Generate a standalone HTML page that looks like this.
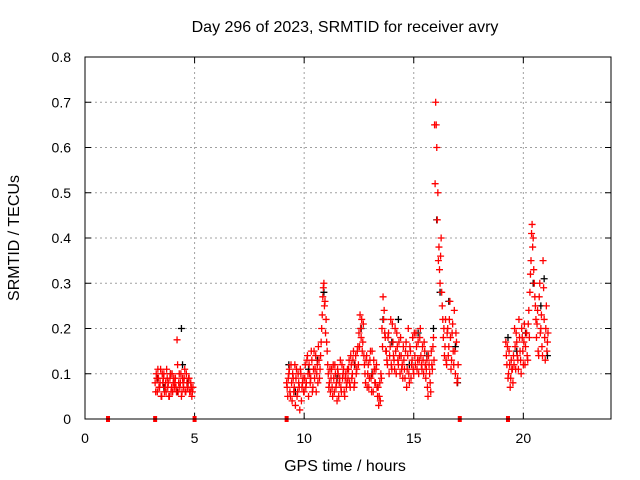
<!DOCTYPE html>
<html><head><meta charset="utf-8"><style>
html,body{margin:0;padding:0;background:#fff}
svg{display:block;font-family:"Liberation Sans",sans-serif}
</style></head><body>
<svg id="chart" width="640" height="480" viewBox="0 0 640 480">
<text x="345" y="32" text-anchor="middle" font-size="16">Day 296 of 2023, SRMTID for receiver avry</text>
<text x="0" y="0" transform="translate(19,238) rotate(-90)" text-anchor="middle" font-size="16">SRMTID / TECUs</text>
<text x="345" y="471" text-anchor="middle" font-size="16">GPS time / hours</text>
<g id="grid"></g>
<g id="ticks"></g>
<g id="black"></g>
<g id="red"></g>
<rect x="85" y="57" width="526" height="362" fill="none" stroke="#000" stroke-width="1"/>
</svg>
<script>
const xTicks=[0,5,10,15,20];
const yTicks=[0,0.1,0.2,0.3,0.4,0.5,0.6,0.7,0.8];
const yTickLabels=["0","0.1","0.2","0.3","0.4","0.5","0.6","0.7","0.8"];
const segStarts=[3.20,9.20,10.00,10.80,11.20,12.00,12.50,12.75,13.35,13.55,13.75,14.55,15.05,15.55,15.95,16.15,16.35,19.20,19.55,20.30,20.60];
const redA=[
.08,.10,.06,.09,.07,.11,.05,.08,.10,.07,.06,.09,.08,.05,.10,.07,.06,.09,.08,.07,.175,.06,.10,.08,.05,.09,.07,.11,.06,.08,.07,.09,.06,.07,.06,
.08,.05,.10,.06,.12,.04,.09,.07,.03,.11,.06,.08,.02,.10,.07,.09,
.06,.12,.08,.14,.05,.10,.09,.13,.07,.15,.11,.06,.12,.16,.09,.14,
.20,.27,.30,.26,.22,.15,.10,.08,
.06,.11,.05,.09,.12,.07,.04,.10,.08,.13,.06,.09,.11,.05,.10,.08,
.09,.13,.07,.12,.10,.15,.08,.14,.11,.16,
.19,.23,.18,.15,.21,
.12,.08,.14,.10,.07,.13,.09,.15,.06,.11,.08,.12,
.05,.03,.08,.10,
.20,.27,.24,.18,
.15,.12,.19,.14,.22,.11,.17,.13,.20,.10,.16,.12,.14,.18,.11,.09,
.13,.09,.17,.11,.20,.08,.15,.12,.18,.10,
.14,.19,.11,.17,.13,.20,.12,.16,.10,.15,
.09,.13,.05,.12,.08,.15,.11,.18,
.65,.70,.60,.50,
.38,.30,.40,.25,
.18,.14,.22,.12,.20,.16,.26,.11,.19,.15,.24,.10,.17,.09,
.17,.12,.09,.15,.07,.13,.11,
.14,.20,.11,.17,.13,.22,.15,.10,.18,.12,.21,.16,.19,.13,.24,
.28,.35,.43,.40,.30,.25,
.18,.24,.14,.30,.20,.16,.35,.22,.13,.25,.17];
const redB=[
.06,.09,.11,.07,.08,.05,.10,.09,.06,.08,.11,.07,.05,.09,.06,.10,.08,.07,.09,.06,.12,.08,.07,.10,.06,.08,.09,.06,.10,.07,.09,.06,.08,.05,.07,
.07,.09,.11,.05,.08,.10,.06,.12,.09,.05,.10,.07,.11,.04,.08,.06,
.09,.07,.13,.10,.12,.08,.15,.06,.11,.09,.14,.10,.08,.13,.11,.17,
.23,.29,.25,.19,.17,.12,.07,.11,
.09,.07,.12,.06,.10,.08,.11,.05,.09,.07,.12,.10,.06,.09,.07,.11,
.11,.08,.14,.09,.13,.07,.12,.10,.15,.12,
.16,.20,.22,.17,.14,
.10,.13,.07,.12,.09,.15,.06,.10,.13,.08,.11,.07,
.07,.05,.04,.09,
.16,.22,.19,.15,
.13,.18,.10,.16,.12,.21,.14,.11,.15,.19,.13,.17,.10,.14,.12,.16,
.11,.15,.07,.14,.10,.16,.09,.13,.11,.19,
.12,.16,.13,.10,.18,.14,.11,.13,.17,.12,
.11,.07,.14,.10,.06,.12,.16,.13,
.52,.65,.44,.35,
.33,.36,.28,.22,
.20,.16,.13,.19,.14,.22,.18,.13,.21,.12,.15,.19,.08,.12,
.14,.16,.10,.12,.09,.11,.08,
.12,.16,.19,.14,.11,.18,.13,.20,.15,.17,.12,.19,.14,.21,.18,
.32,.41,.38,.33,.27,.22,
.21,.15,.27,.19,.23,.14,.29,.18,.20,.15,.19];
const segCounts=[35,16,16,8,16,10,5,12,4,4,16,10,10,8,4,4,14,7,15,6,11];
const zeroTimes=[1.05,3.2,5.0,9.2,17.1,19.3];
const zeroValues=[0,0,0,0,0,0];
const blackTimes=[3.3,3.6,3.9,4.2,4.4,4.45,4.7,9.3,9.6,10.2,10.6,10.9,11.5,12.3,12.6,13.1,13.6,14.0,14.3,14.8,15.2,15.6,15.9,16.05,16.2,16.6,16.9,17.0,19.3,19.7,20.1,20.45,20.8,20.95,21.1];
const blackValues=[.09,.07,.10,.06,.20,.12,.08,.12,.06,.11,.13,.28,.09,.12,.20,.10,.22,.17,.22,.12,.19,.14,.20,.44,.28,.26,.16,.08,.18,.15,.19,.30,.25,.31,.14];

const L=85,R=611,T=57,B=419,X0=0,X1=24,Y0=0,Y1=0.8;
const xs=v=>L+(v-X0)/(X1-X0)*(R-L);
const ys=v=>B-(v-Y0)/(Y1-Y0)*(B-T);
const NS="http://www.w3.org/2000/svg";
function mk(tag,attrs,parent){const e=document.createElementNS(NS,tag);for(const k in attrs)e.setAttribute(k,attrs[k]);parent.appendChild(e);return e;}
const grid=document.getElementById('grid'),ticks=document.getElementById('ticks');
xTicks.forEach(v=>{const x=xs(v);
 if(v>X0){const g=mk('line',{x1:x,x2:x,y1:T,y2:B,stroke:'#a0a0a0','stroke-dasharray':'2,3'},grid);
 
 }
 const t1=mk('line',{x1:x,x2:x,y1:B,y2:B-6,stroke:'#000'},ticks);
 
 
 const t2=mk('line',{x1:x,x2:x,y1:T,y2:T+6,stroke:'#000'},ticks);
 
 
 const tx=mk('text',{x:x,y:443,'text-anchor':'middle','font-size':'14'},ticks);tx.textContent=String(v);
 
 
});
yTicks.forEach((v,i)=>{const y=ys(v);
 if(v>Y0&&v<Y1){const g=mk('line',{x1:L,x2:R,y1:y,y2:y,stroke:'#a0a0a0','stroke-dasharray':'2,3'},grid);
 
 }
 const t1=mk('line',{x1:L,x2:L+6,y1:y,y2:y,stroke:'#000'},ticks);
 
 
 const t2=mk('line',{x1:R,x2:R-6,y1:y,y2:y,stroke:'#000'},ticks);
 
 
 const tx=mk('text',{x:71,y:y+5,'text-anchor':'end','font-size':'14'},ticks);tx.textContent=yTickLabels[i];
 
 
});
function plus(g,t,v,color){const x=xs(t),y=ys(v);
 const p=mk('path',{d:`M${x-3.5},${y}h7M${x},${y-3.5}v7`,stroke:color,'stroke-width':'1.3',fill:'none'},g);
 
 }
const bg=document.getElementById('black'),rg=document.getElementById('red');
blackTimes.forEach((t,i)=>plus(bg,t,blackValues[i],'#000'));
let idx=0;
segStarts.forEach((s,si)=>{for(let k=0;k<segCounts[si];k++){const t=s+k*0.05;
 plus(rg,t,redA[idx],'#f00');plus(rg,t+0.025,redB[idx],'#f00');idx++;}});
zeroTimes.forEach((t,i)=>{const x=xs(t),y=ys(zeroValues[i]);
 const r=mk('rect',{x:x-2,y:y-3,width:4,height:6,fill:'#f00'},rg);
 
 });
</script>
</body></html>
